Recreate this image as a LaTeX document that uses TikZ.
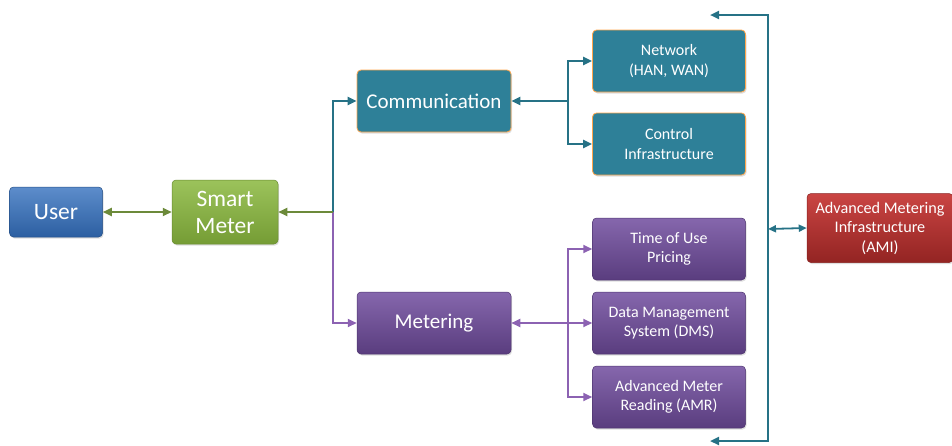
\documentclass[tikz,border=0pt]{standalone}
\usepackage{fontspec}
\setmainfont{Carlito}
\usetikzlibrary{arrows.meta,shadows}

\definecolor{userblue}{RGB}{52,112,190}
\definecolor{smgreen}{RGB}{138,184,62}
\definecolor{commteal}{RGB}{46,128,152}
\definecolor{metpurple}{RGB}{112,76,158}
\definecolor{amired}{RGB}{196,48,46}
\definecolor{linegreen}{RGB}{108,138,58}
\definecolor{lineteal}{RGB}{38,114,134}
\definecolor{linepurple}{RGB}{140,98,178}

\begin{document}
\begin{tikzpicture}[x=1pt,y=-1pt,
    box/.style={rounded corners=4pt, text=white, align=center, inner sep=2pt,
        drop shadow={opacity=0.25, shadow xshift=1pt, shadow yshift=-1.5pt}},
    bigbox/.style={box, font=\fontsize{21}{26}\selectfont},
    smallbox/.style={box, font=\fontsize{16}{19.5}\selectfont,
        minimum width=153pt, minimum height=62pt},
    userbox/.style={box, font=\fontsize{23.5}{27}\selectfont,
        top color=userblue!80!white, bottom color=userblue!85!black,
        draw=userblue!70!black, line width=0.5pt},
    smbox/.style={box, font=\fontsize{23.5}{27}\selectfont,
        top color=smgreen!85!white, bottom color=smgreen!85!black,
        draw=smgreen!75!black, line width=0.5pt},
    commbox/.style={fill=commteal, draw=orange!70!white, line width=0.8pt},
    metbox/.style={top color=metpurple!85!white, bottom color=metpurple!80!black,
        draw=metpurple!70!black, line width=0.5pt},
    amibox/.style={box, font=\fontsize{16.2}{19.5}\selectfont,
        top color=amired!90!white, bottom color=amired!75!black,
        draw=amired!70!black, line width=0.5pt},
    tip/.style={-{Triangle[length=9pt,width=8pt]}},
    both/.style={{Triangle[length=9pt,width=8pt]}-{Triangle[length=9pt,width=8pt]}},
    greenline/.style={draw=linegreen, line width=2pt},
    tealline/.style={draw=lineteal, line width=2.2pt},
    purpleline/.style={draw=linepurple, line width=2pt}]
    \useasboundingbox (0,0) rectangle (952,445);

    \node[userbox, minimum width=93pt, minimum height=50pt] (user) at (56,212) {User};
    \node[smbox, minimum width=106pt, minimum height=64pt] (sm) at (225,212) {Smart\\Meter};
    \node[bigbox, commbox, minimum width=154pt, minimum height=62pt] (comm) at (434,101) {Communication};
    \node[bigbox, metbox, minimum width=154pt, minimum height=62pt] (met) at (434,323) {Metering};

    \node[smallbox, commbox] (net) at (669,61) {Network\\(HAN, WAN)};
    \node[smallbox, commbox] (ctrl) at (669,144) {Control\\Infrastructure};
    \node[smallbox, metbox] (tou) at (669,249) {Time of Use\\Pricing};
    \node[smallbox, metbox] (dms) at (669,323) {Data Management\\System (DMS)};
    \node[smallbox, metbox] (amr) at (669,397) {Advanced Meter\\Reading (AMR)};
    \node[amibox, minimum width=146pt, minimum height=69pt] (ami) at (880,228)
        {Advanced Metering\\Infrastructure\\(AMI)};

    % junctions
    \coordinate (j1) at (333,212);
    \coordinate (j2) at (568,101);
    \coordinate (j3) at (568,323);
    \coordinate (rt) at (768,15);
    \coordinate (rb) at (768,441);
    \coordinate (ra) at (768,229);
    \coordinate (tl) at (710,15);
    \coordinate (bl) at (710,441);

    % user side
    \draw[greenline, both] (user) -- (sm);
    \draw[tealline, tip] (j1) |- (comm.west);
    \draw[purpleline, tip] (j1) |- (met.west);
    \draw[greenline, tip] (j1) -- (sm);

    % communication
    \draw[tealline, tip] (j2) -- (comm.east);
    \draw[tealline, tip] (j2) |- (net.west);
    \draw[tealline, tip] (j2) |- (ctrl.west);

    % metering
    \draw[purpleline, both] (met.east) -- (dms.west);
    \draw[purpleline, tip] (j3) |- (tou.west);
    \draw[purpleline, tip] (j3) |- (amr.west);

    % AMI
    \draw[tealline, both] (tl) -- (rt) -- (rb) -- (bl);
    \draw[tealline, line width=1.8pt, {Triangle[length=8pt,width=7pt]}-{Triangle[length=8pt,width=7pt]}] (ra) -- (ami.west);
\end{tikzpicture}
\end{document}
